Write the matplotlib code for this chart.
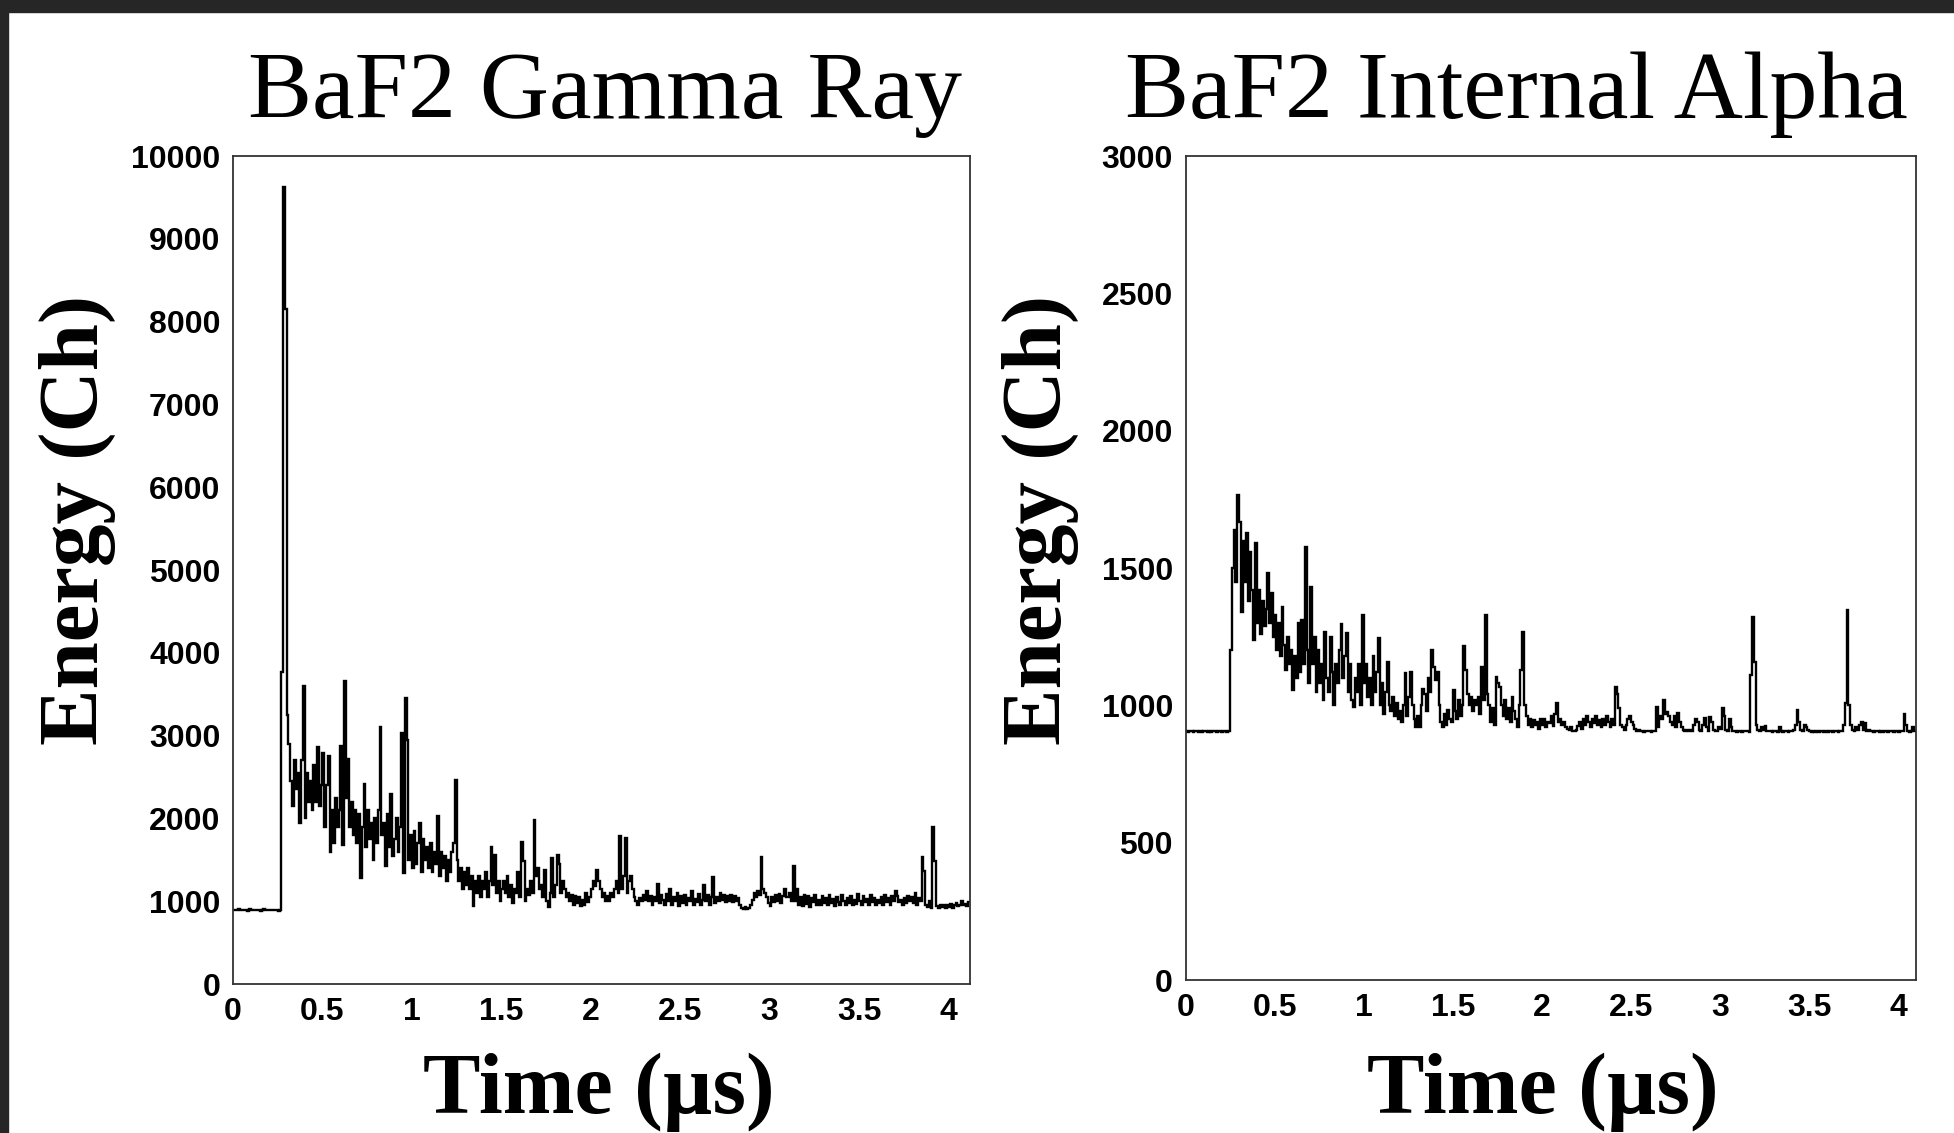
"""
Two-panel BaF2 waveform plot: gamma ray vs internal alpha pulse.
"""
import numpy as np
import matplotlib
matplotlib.use("Agg")
import matplotlib.pyplot as plt
from matplotlib.patches import Rectangle

BIN_US = 0.01

# gamma-ray pulse, one value per 0.01 us bin (channels)
gamma = [
    888, 892, 890, 905, 888, 890, 889, 891, 887, 905,
    890, 888, 892, 889, 890, 886, 891, 908, 890, 889,
    892, 888, 890, 889, 891, 887, 890, 3770, 9620, 8150,
    3250, 2900, 2450, 2150, 2700, 2350, 2550, 1950, 2700, 3600,
    2000, 2550, 2200, 2450, 2100, 2650, 2200, 2860, 2150, 2400,
    2790, 1900, 2400, 2750, 1600, 2100, 1700, 2250, 1900, 2100,
    2880, 1680, 3660, 2250, 2720, 1900, 2200, 1800, 2100, 1700,
    2050, 1280, 1900, 2420, 1650, 2100, 1750, 1950, 1500, 2000,
    1700, 2100, 3100, 1800, 1950, 1420, 2050, 1650, 2300, 1550,
    1750, 2000, 1600, 1900, 3030, 1340, 3450, 2950, 1500, 1800,
    1400, 1850, 1450, 1700, 1950, 1350, 1750, 1500, 1650, 1400,
    1700, 1350, 1600, 1450, 2030, 1300, 1600, 1400, 1550, 1250,
    1500, 1350, 1600, 1700, 2460, 1500, 1250, 1400, 1150, 1350,
    1200, 1400, 1150, 1300, 940, 1250, 1100, 1300, 1050, 1250,
    1150, 1350, 1050, 1250, 1660, 1200, 1560, 1100, 1250, 1000,
    1150, 1250, 1100, 1300, 1050, 1200, 980, 1150, 1100, 1350,
    1050, 1720, 1480, 1000, 1150, 1080, 1250, 1100, 1980, 1300,
    1400, 1150, 1200, 1050, 1380, 1000, 935, 1100, 1520, 1050,
    1200, 1560, 1450, 1100, 1250, 1150, 1050, 1100, 1000, 1080,
    950, 1060, 980, 1050, 940, 1020, 960, 1100, 990, 1050,
    1150, 1250, 1180, 1380, 1250, 1150, 1050, 1100, 1000, 1060,
    1000, 1100, 1050, 1150, 1250, 1100, 1790, 1150, 1300, 1760,
    1100, 1250, 1300, 1150, 1050, 1000, 950, 1040, 1000, 1080,
    1020, 1120, 1000, 1060, 960, 1050, 1000, 1210, 980, 1070,
    1010, 950, 1090, 1000, 1150, 960, 1050, 1000, 1100, 940,
    1060, 980, 1080, 960, 1040, 1000, 1120, 950, 1030, 990,
    1090, 960, 1020, 1200, 1000, 1080, 950, 1050, 1290, 980,
    1050, 1000, 1100, 1020, 1080, 990, 1060, 1000, 1080, 990,
    1060, 1000, 1040, 950, 920, 910, 930, 905, 920, 960,
    1020, 1100, 1050, 1120, 1080, 1530, 1150, 1100, 1050, 980,
    940, 1050, 990, 1070, 1000, 1090, 980, 1060, 1150, 1050,
    1050, 1100, 1000, 1420, 1000, 1150, 960, 1050, 940, 1080,
    970, 1060, 930, 1040, 990, 1080, 950, 1020, 960, 1060,
    980, 1040, 950, 1070, 980, 1030, 940, 1050, 990, 960,
    1080, 1000, 950, 1040, 980, 1060, 960, 1020, 970, 1090,
    1000, 950, 1060, 990, 1030, 950, 1070, 990, 1040, 960,
    1020, 980, 1050, 960, 1080, 990, 1040, 950, 1060, 1000,
    1120, 1060, 990, 1020, 960, 1040, 980, 1060, 1000, 1050,
    980, 1100, 960, 1040, 1000, 1530, 1360, 950, 930, 1000,
    920, 1900, 1480, 940, 920, 950, 930, 960, 920, 950,
    930, 970, 920, 950, 980, 940, 960, 1000, 950, 970, 940, 990,
]

# internal alpha pulse, same binning (channels)
alpha = [
    905, 903, 907, 905, 904, 906, 905, 903, 906, 904,
    905, 907, 904, 905, 903, 906, 905, 904, 906, 905,
    904, 906, 905, 903, 905, 1200, 1500, 1640, 1450, 1766,
    1668, 1340, 1600, 1450, 1626, 1380, 1560, 1420, 1238, 1590,
    1300, 1420, 1260, 1380, 1290, 1350, 1480, 1300, 1408, 1250,
    1330, 1200, 1300, 1180, 1359, 1220, 1129, 1250, 1150, 1200,
    1056, 1180, 1100, 1298, 1120, 1310, 1150, 1578, 1200, 1080,
    1432, 1150, 1250, 1050, 1200, 1080, 1150, 1020, 1268, 1100,
    1050, 1250, 1120, 1000, 1150, 1080, 1200, 1296, 1100, 1180,
    1262, 1050, 1150, 1020, 995, 1100, 1050, 1150, 1000, 1329,
    1080, 1150, 1030, 1100, 1000, 1180, 1050, 1120, 1244, 1000,
    1080, 970, 1050, 1159, 1000, 980, 1030, 960, 1010, 950,
    980, 940, 1000, 1116, 960, 1030, 1120, 1000, 950, 922,
    960, 922, 1000, 1060, 1040, 980, 1100, 1050, 1201, 1140,
    1092, 1120, 1000, 940, 922, 970, 930, 983, 950, 940,
    1056, 980, 950, 1019, 960, 1000, 1217, 1129, 1040, 1000,
    1030, 980, 1020, 1000, 1030, 970, 1141, 1020, 1329, 1040,
    1000, 940, 990, 930, 1104, 1080, 1068, 1000, 960, 1020,
    950, 990, 940, 1031, 980, 950, 920, 1000, 1129, 1268,
    1000, 960, 930, 950, 920, 945, 930, 940, 915, 950,
    930, 950, 920, 940, 935, 960, 925, 970, 1007, 940,
    950, 930, 940, 920, 915, 910, 920, 908, 905, 912,
    925, 940, 915, 950, 930, 960, 940, 920, 950, 935,
    960, 930, 945, 920, 950, 930, 960, 940, 920, 950,
    930, 1068, 1040, 990, 930, 920, 912, 930, 950, 960,
    940, 930, 915, 908, 910, 905, 905, 904, 905, 906,
    905, 904, 906, 905, 993, 920, 960, 950, 1019, 970,
    977, 960, 940, 930, 960, 920, 971, 940, 920, 910,
    908, 910, 906, 912, 905, 930, 950, 940, 910, 906,
    930, 955, 920, 908, 958, 940, 910, 906, 905, 920,
    915, 989, 960, 910, 906, 950, 920, 908, 905, 904,
    906, 905, 904, 907, 905, 906, 904, 1110, 1323, 1159,
    930, 912, 906, 920, 910, 925, 906, 908, 905, 904,
    906, 905, 903, 920, 905, 904, 906, 905, 904, 906,
    905, 910, 930, 983, 940, 912, 906, 930, 920, 912,
    906, 904, 905, 903, 906, 904, 905, 906, 904, 905,
    904, 906, 905, 903, 906, 905, 904, 906, 905, 930,
    1007, 1347, 1000, 930, 912, 906, 920, 910, 930, 940,
    912, 935, 906, 910, 905, 906, 904, 905, 906, 904,
    905, 903, 906, 905, 904, 906, 905, 904, 906, 905,
    904, 905, 906, 968, 930, 906, 904, 905, 920, 905,
]

titles = ["BaF2 Gamma Ray", "BaF2 Internal Alpha"]
y_limits = [10000, 3000]
y_steps = [1000, 500]
x_limits = [4.12, 4.10]
x_ticks = [0, 0.5, 1, 1.5, 2, 2.5, 3, 3.5, 4]
x_ticklabels = ["0", "0.5", "1", "1.5", "2", "2.5", "3", "3.5", "4"]

W, H = 1954, 1133
fig = plt.figure(figsize=(W / 100, H / 100), dpi=100)
fig.patch.set_facecolor("white")

# dark frame strips at top and left (screenshot border)
fig.patches.append(Rectangle((0, 1 - 12 / H), 1, 12 / H, transform=fig.transFigure,
                             color="#262626", zorder=0))
fig.patches.append(Rectangle((0, 0), 8 / W, 1, transform=fig.transFigure,
                             color="#262626", zorder=0))

# axes boxes in pixel coords (left, top, right, bottom)
boxes = [(233, 156, 970, 984), (1185.5, 156, 1916, 980)]
title_x = [605, 1516]
ylabel_x = [77, 1040]
xlabel_x = [599, 1543]

serif = "Liberation Serif"
sans = "Liberation Sans"

for i, (vals, box) in enumerate(zip([gamma, alpha], boxes)):
    l, t, r, b = box
    ax = fig.add_axes([l / W, 1 - b / H, (r - l) / W, (b - t) / H])
    edges = np.arange(len(vals) + 1) * BIN_US
    ax.stairs(vals, edges, baseline=None, color="black", lw=1.7)

    ax.set_xlim(0, x_limits[i])
    ax.set_ylim(0, y_limits[i])
    ax.set_xticks(x_ticks)
    ax.set_xticklabels(x_ticklabels)
    ax.set_yticks(np.arange(0, y_limits[i] + 1, y_steps[i]))
    ax.tick_params(length=0, labelsize=23, pad=9)
    for lab in ax.get_xticklabels() + ax.get_yticklabels():
        lab.set_fontfamily(sans)
        lab.set_fontweight("bold")
    for sp in ax.spines.values():
        sp.set_linewidth(1.3)
        sp.set_color("#333333")

    fig.text(title_x[i] / W, 1 - 118 / H, titles[i], fontsize=69, family=serif,
             ha="center", va="baseline")
    fig.text(ylabel_x[i] / W, 1 - 520 / H, "Energy (Ch)", fontsize=61,
             family=serif, fontweight="bold", rotation=90,
             ha="center", va="center")
    fig.text(xlabel_x[i] / W, 1 - 1113 / H, "Time (µs)", fontsize=62,
             family=serif, fontweight="bold", ha="center", va="baseline")

fig.savefig("out.png", dpi=100)
